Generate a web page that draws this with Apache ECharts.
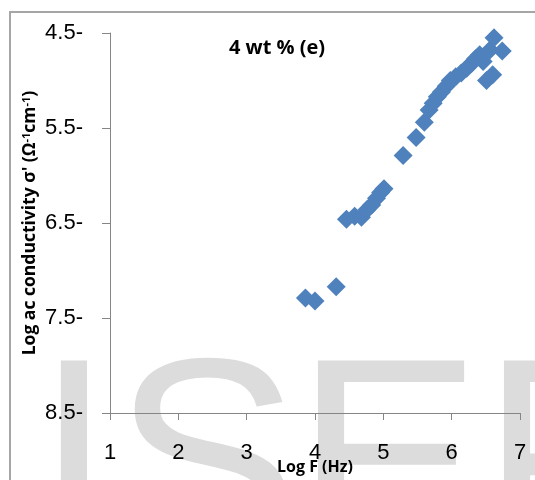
<!DOCTYPE html>
<html>
<head>
<meta charset="utf-8">
<script src="https://cdn.jsdelivr.net/npm/echarts@6/dist/echarts.min.js"></script>
<style>
  html, body { margin: 0; padding: 0; background: #fff; }
  #chart { width: 535px; height: 480px; }
</style>
</head>
<body>
<div id="chart"></div>
<script>
// Log frequency (Hz) and log ac conductivity for the 4 wt % sample
const logF = [
  3.86, 4.00, 4.31,
  4.46, 4.58, 4.68, 4.76, 4.83, 4.90, 4.96, 5.01,
  5.29, 5.48, 5.60,
  5.67, 5.73, 5.79, 5.85, 5.92, 5.98, 6.06, 6.14, 6.22, 6.29, 6.35, 6.41,
  6.46, 6.51, 6.60, 6.56, 6.62, 6.74
];
const logSigma = [
  7.29, 7.32, 7.17,
  6.46, 6.43, 6.44, 6.36, 6.31, 6.24, 6.18, 6.14,
  5.79, 5.60, 5.44,
  5.31, 5.24, 5.17, 5.12, 5.06, 5.00, 4.96, 4.92, 4.87, 4.82, 4.77, 4.73,
  4.80, 5.00, 4.94, 4.68, 4.55, 4.69
];
const xTicks = [1, 2, 3, 4, 5, 6, 7];
const yTicks = [4.5, 5.5, 6.5, 7.5, 8.5];

const chart = echarts.init(document.getElementById('chart'), null, { renderer: 'canvas' });

const axisGray = '#868686';
const sansFont = 'Liberation Sans, Arial, sans-serif';
const boldFont = 'Open Sans, sans-serif';

// large light-gray lettering behind the plot
const backLetter = (text, x) => ({
  type: 'text',
  z: -10,
  silent: true,
  x: x,
  y: 476,
  style: {
    text: text,
    fill: '#dcdcdc',
    font: '280px "Liberation Sans", Arial, sans-serif',
    textAlign: 'left',
    textVerticalAlign: 'middle'
  }
});

chart.setOption({
  animation: false,
  backgroundColor: '#ffffff',
  grid: { left: 110, right: 15, top: 33, bottom: 67, containLabel: false, outerBoundsMode: 'none' },
  graphic: [
    backLetter('I', 35),
    backLetter('S', 113),
    backLetter('E', 295),
    backLetter('F', 481),
    {
      type: 'polyline',
      z: -5,
      silent: true,
      shape: { points: [[10, 480], [10, 12], [535, 12]] },
      style: { stroke: '#a6a6a6', lineWidth: 2, fill: null }
    },
    {
      type: 'text',
      x: 277,
      y: 48,
      style: {
        text: '4 wt % (e)',
        font: 'bold 20px "Open Sans", sans-serif',
        fill: '#000',
        textAlign: 'center',
        textVerticalAlign: 'middle'
      }
    }
  ],
  xAxis: {
    type: 'value',
    min: xTicks[0],
    max: xTicks[xTicks.length - 1],
    interval: 1,
    name: 'Log F (Hz)',
    nameLocation: 'middle',
    nameGap: 46,
    nameMoveOverlap: false,
    nameTextStyle: { fontFamily: boldFont, fontWeight: 'bold', fontSize: 16, color: '#000' },
    axisLine: { show: true, onZero: false, lineStyle: { color: axisGray, width: 1 } },
    axisTick: { show: true, inside: false, length: 7, lineStyle: { color: axisGray } },
    axisLabel: { fontFamily: sansFont, fontSize: 22, color: '#000', margin: 29 },
    splitLine: { show: false }
  },
  yAxis: {
    type: 'value',
    inverse: true,
    min: yTicks[0],
    max: yTicks[yTicks.length - 1],
    interval: 1,
    name: "Log ac conductivity σ' (Ω{sup|-1}cm{sup|-1})",
    nameLocation: 'middle',
    nameGap: 71,
    nameMoveOverlap: false,
    nameTextStyle: {
      fontFamily: boldFont, fontWeight: 'bold', fontSize: 17.5, color: '#000',
      rich: {
        sup: { fontFamily: boldFont, fontWeight: 'bold', fontSize: 11, color: '#000', verticalAlign: 'top', lineHeight: 12 }
      }
    },
    axisLine: { show: true, onZero: false, lineStyle: { color: axisGray, width: 1 } },
    axisTick: { show: true, inside: false, length: 8, lineStyle: { color: axisGray } },
    axisLabel: {
      fontFamily: sansFont, fontSize: 22, color: '#000', margin: 27,
      formatter: v => v.toFixed(1) + '-'
    },
    splitLine: { show: false }
  },
  series: [{
    type: 'scatter',
    symbol: 'diamond',
    symbolSize: 19,
    itemStyle: { color: '#4f81bd', opacity: 1 },
    data: logF.map((f, i) => [f, logSigma[i]])
  }]
});
</script>
</body>
</html>
